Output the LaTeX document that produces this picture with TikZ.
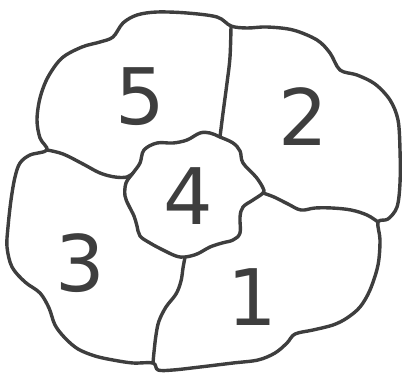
\documentclass[tikz,border=0pt]{standalone}
\usepackage{fontspec}
\setmainfont{DejaVu Sans}
\usetikzlibrary{positioning}
\definecolor{ink}{HTML}{3E3E3E}

\begin{document}
\begin{tikzpicture}[x=1pt, y=-1pt,
  border/.style={draw=ink, line width=3.4pt, line join=round, line cap=round},
  digit/.style={text=ink, font=\fontsize{78}{80}\selectfont, inner sep=0pt}]
  \useasboundingbox (0,0) rectangle (406,388);
  % junctions on the outer rim
  \coordinate (j52) at (231,26);
  \coordinate (j21) at (378,222);
  \coordinate (j13) at (153,363);
  \coordinate (j35) at (47,150);
  % junctions on the middle region
  \coordinate (b52) at (220,137);
  \coordinate (b53) at (133,173);
  \coordinate (b31) at (185,257);
  \coordinate (b12) at (263,193);
  % outer rim
  \draw[border] plot[smooth cycle, tension=0.55] coordinates {
    (113,37) (123,23) (137,15) (157,12) (187,13) (217,17) (j52)
    (247,28) (267,27) (293,30) (317,40) (330,53) (340,70) (357,75)
    (375,84) (390,100) (398,120) (400,150) (400,183) (397,207) (388,219) (j21)
    (380,240) (378,265) (370,290) (360,307) (347,318) (333,325) (313,330)
    (295,334) (287,343) (275,353) (258,360) (233,363) (200,367) (173,370) (158,370) (j13)
    (133,363) (113,360) (95,356) (78,349) (65,338) (55,325) (49,308) (40,293)
    (25,282) (12,267) (7,247) (8,227) (11,200) (15,177) (20,163) (30,155) (j35)
    (40,138) (37,120) (40,98) (48,77) (62,58) (82,47) (100,42)};
  % middle region
  \draw[border] plot[smooth cycle, tension=0.6] coordinates {
    (b53) (140,163) (144,150) (157,143) (173,143) (187,140) (200,133) (210,133) (b52)
    (233,143) (240,151) (243,163) (256,177) (263,188) (b12) (253,200) (243,207)
    (240,217) (240,233) (233,240) (222,243) (210,247) (197,254) (b31) (176,256)
    (163,250) (150,243) (140,236) (137,226) (134,216) (129,206) (125,196) (126,183)};
  % inner borders
  \draw[border] plot[smooth, tension=0.6] coordinates {
    (j52) (230,57) (227,83) (223,113) (b52)};
  \draw[border] plot[smooth, tension=0.6] coordinates {
    (j35) (63,154) (83,164) (100,173) (115,177) (127,177) (b53)};
  \draw[border] plot[smooth, tension=0.6] coordinates {
    (b31) (183,268) (181,281) (176,294) (166,307) (159,321) (156,335) (154,352) (j13)};
  \draw[border] plot[smooth, tension=0.6] coordinates {
    (b12) (274,197) (288,204) (301,210) (315,208) (332,208) (351,210) (367,215) (j21)};
  % region numbers
  \node[digit] (n5) at (140,97) {5};
  \node[digit] (n2) at (303,117) {2};
  \node[digit] (n4) at (188,196) {4};
  \node[digit] (n3) at (80,263) {3};
  \node[digit] (n1) at (252,297) {1};
\end{tikzpicture}
\end{document}
